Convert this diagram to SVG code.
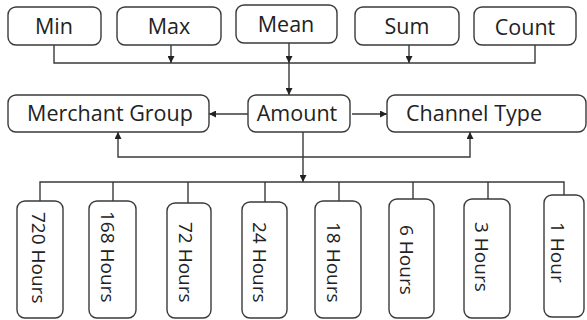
<svg xmlns="http://www.w3.org/2000/svg" width="587" height="320" viewBox="0 0 587 320">
<style>
.b{fill:#fff;stroke:#3a3a3a;stroke-width:1.4}
.t{font-family:"Open Sans","Noto Sans",sans-serif;font-size:21.5px;fill:#222}
.v{font-family:"Open Sans","Noto Sans",sans-serif;font-size:19px;fill:#222}
.c{fill:none;stroke:#3a3a3a;stroke-width:1.4}
</style>
<defs>
<marker id="a" viewBox="0 0 10 10" refX="10" refY="5" markerWidth="7" markerHeight="7" markerUnits="userSpaceOnUse" orient="auto">
<path d="M0,0 L10,5 L0,10 z" fill="#222"/>
</marker>
</defs>
<rect width="587" height="320" fill="#fff"/>
<g id="connectors">
<path class="c" d="M54,45 V63 H535 V45"/>
<path class="c" d="M171,45 V63" marker-end="url(#a)"/>
<path class="c" d="M409,45 V63" marker-end="url(#a)"/>
<path class="c" d="M289,43 V63" marker-end="url(#a)"/>
<path class="c" d="M289,63 V95" marker-end="url(#a)"/>
<path class="c" d="M248,114 H209" marker-end="url(#a)"/>
<path class="c" d="M352,114 H387" marker-end="url(#a)"/>
<path class="c" d="M200,157 H118 V132" marker-end="url(#a)"/>
<path class="c" d="M200,157 H470 V132" marker-end="url(#a)"/>
<path class="c" d="M303,132 V182" marker-end="url(#a)"/>
<path class="c" d="M40,201 V182 H564 V195"/>
<path class="c" d="M113,182 V201 M188,182 V203 M265,182 V202 M339,182 V201 M413,182 V199 M488,182 V199"/>
</g>
<g id="min"><rect class="b" x="8" y="7" width="93" height="38" rx="8"/><text class="t" x="54" y="34" text-anchor="middle">Min</text></g>
<g id="max"><rect class="b" x="117" y="7" width="104" height="38" rx="8"/><text class="t" x="169" y="34" text-anchor="middle">Max</text></g>
<g id="mean"><rect class="b" x="236" y="5" width="101" height="38" rx="8"/><text class="t" x="286" y="32" text-anchor="middle">Mean</text></g>
<g id="sum"><rect class="b" x="355" y="7" width="104" height="38" rx="8"/><text class="t" x="407" y="34" text-anchor="middle">Sum</text></g>
<g id="count"><rect class="b" x="474" y="7" width="102" height="38" rx="8"/><text class="t" x="525" y="35" text-anchor="middle">Count</text></g>
<g id="merchant-group"><rect class="b" x="8" y="95" width="201" height="37" rx="8"/><text class="t" x="110" y="121" text-anchor="middle">Merchant Group</text></g>
<g id="amount"><rect class="b" x="248" y="95" width="102" height="37" rx="8"/><text class="t" x="297" y="121" text-anchor="middle">Amount</text></g>
<g id="channel-type"><rect class="b" x="387" y="95" width="199" height="37" rx="8"/><text class="t" x="474" y="121" text-anchor="middle">Channel Type</text></g>
<g id="h720"><rect class="b" x="17" y="201" width="46" height="117" rx="8"/><text class="v" transform="translate(32,212) rotate(90)">720 Hours</text></g>
<g id="h168"><rect class="b" x="89" y="201" width="47" height="117" rx="8"/><text class="v" transform="translate(101,211) rotate(90)">168 Hours</text></g>
<g id="h72"><rect class="b" x="167" y="203" width="44" height="115" rx="8"/><text class="v" transform="translate(179,222) rotate(90)">72 Hours</text></g>
<g id="h24"><rect class="b" x="242" y="202" width="45" height="116" rx="8"/><text class="v" transform="translate(253,222) rotate(90)">24 Hours</text></g>
<g id="h18"><rect class="b" x="315" y="201" width="46" height="117" rx="8"/><text class="v" transform="translate(327,222) rotate(90)">18 Hours</text></g>
<g id="h6"><rect class="b" x="389" y="199" width="45" height="119" rx="8"/><text class="v" transform="translate(400,225) rotate(90)">6 Hours</text></g>
<g id="h3"><rect class="b" x="464" y="199" width="46" height="119" rx="8"/><text class="v" transform="translate(475,222) rotate(90)">3 Hours</text></g>
<g id="h1"><rect class="b" x="544" y="195" width="40" height="122" rx="8"/><text class="v" transform="translate(551,222) rotate(90)">1 Hour</text></g>
</svg>
